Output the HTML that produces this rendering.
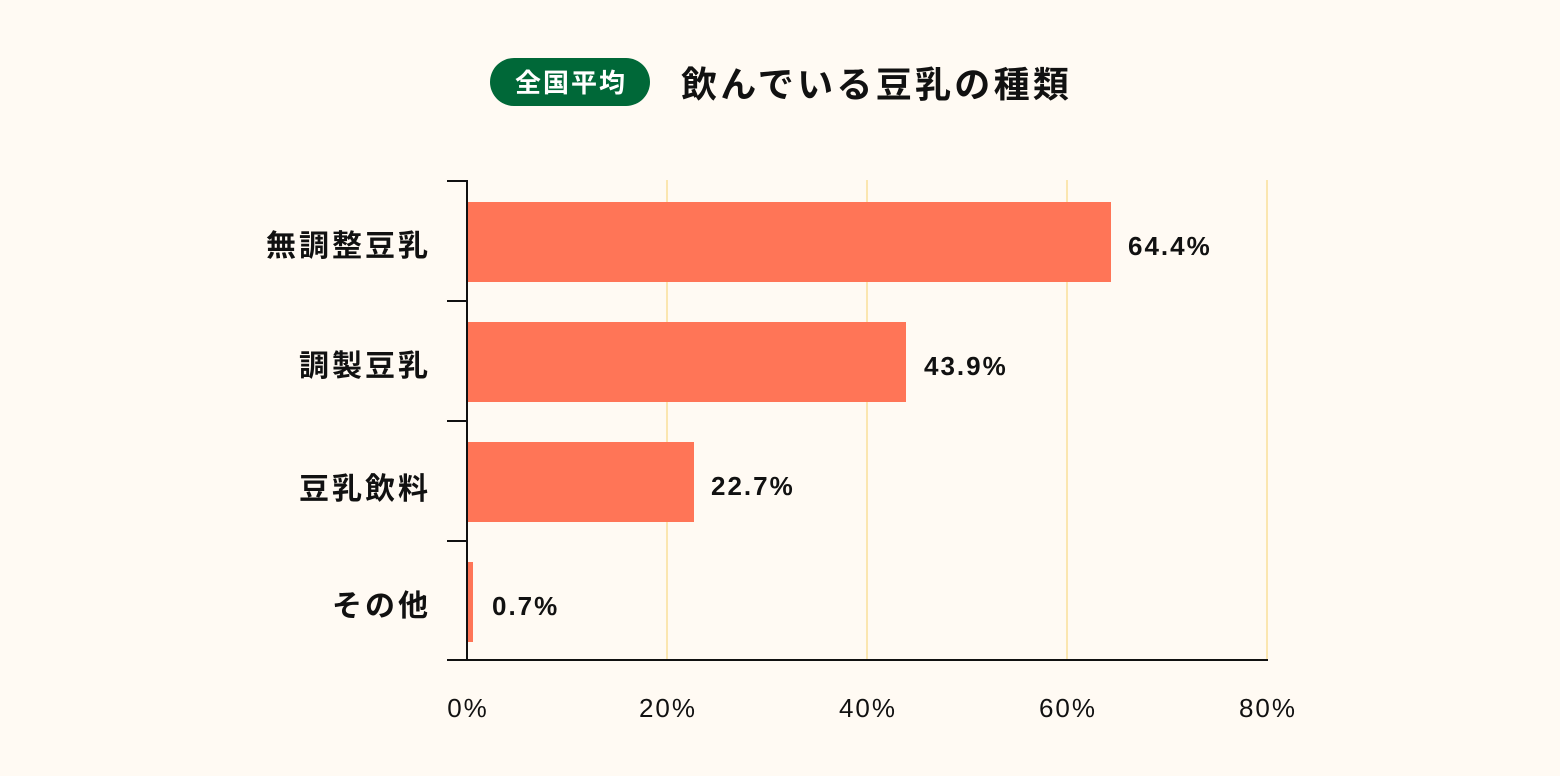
<!DOCTYPE html>
<html><head><meta charset="utf-8"><style>
html,body{margin:0;padding:0;background:#fffaf3;}
svg{display:block;font-family:"Liberation Sans","Noto Sans CJK JP",sans-serif;}
</style></head><body>
<svg width="1560" height="776" viewBox="0 0 1560 776" xmlns="http://www.w3.org/2000/svg">
<rect width="1560" height="776" fill="#fffaf3"/>
<rect x="490" y="58" width="160" height="48" rx="24" fill="#006838"/>
<text x="571" y="92" font-size="26" font-weight="bold" fill="#fff" text-anchor="middle" letter-spacing="2">全国平均</text>
<text x="681" y="97" font-size="36" font-weight="bold" fill="#111" letter-spacing="3.3">飲んでいる豆乳の種類</text>
<g stroke="#fbe6b0" stroke-width="2">
<line x1="667" y1="180" x2="667" y2="660"/><line x1="867" y1="180" x2="867" y2="660"/>
<line x1="1067" y1="180" x2="1067" y2="660"/><line x1="1267" y1="180" x2="1267" y2="660"/>
</g>
<g fill="#ff7557">
<rect x="467" y="202" width="644" height="80"/>
<rect x="467" y="322" width="439" height="80"/>
<rect x="467" y="442" width="227" height="80"/>
<rect x="467" y="562" width="6" height="80"/>
</g>
<g stroke="#111" stroke-width="2" fill="none">
<line x1="467" y1="180" x2="467" y2="661"/>
<line x1="447" y1="660" x2="1268" y2="660"/>
<line x1="447" y1="181" x2="467" y2="181"/><line x1="447" y1="301" x2="467" y2="301"/>
<line x1="447" y1="421" x2="467" y2="421"/><line x1="447" y1="541" x2="467" y2="541"/>
</g>
<g font-size="30" font-weight="bold" fill="#111" text-anchor="end" letter-spacing="3">
<text x="431" y="256">無調整豆乳</text>
<text x="431" y="376">調製豆乳</text>
<text x="431" y="499">豆乳飲料</text>
<text x="431" y="616">その他</text>
</g>
<g font-size="26" font-weight="bold" fill="#111" letter-spacing="2">
<text x="1128" y="255">64.4%</text>
<text x="924" y="375">43.9%</text>
<text x="711" y="495">22.7%</text>
<text x="492" y="615">0.7%</text>
</g>
<g font-size="26" fill="#111" text-anchor="middle" letter-spacing="2">
<text x="468" y="717">0%</text><text x="668" y="717">20%</text>
<text x="868" y="717">40%</text><text x="1068" y="717">60%</text>
<text x="1268" y="717">80%</text>
</g>
</svg>
</body></html>
